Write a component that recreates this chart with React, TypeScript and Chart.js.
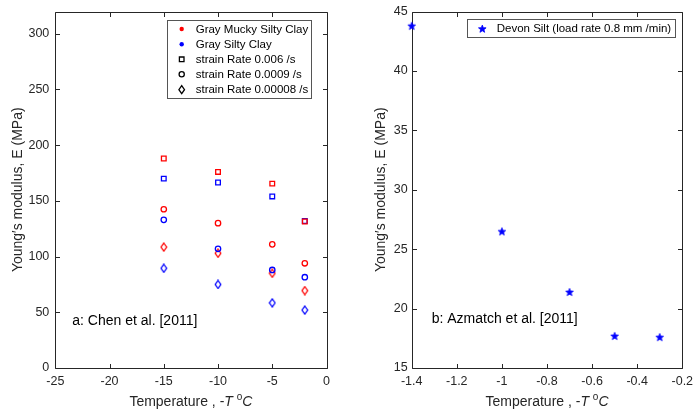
import React, { useEffect, useRef } from "react";
import { Chart, registerables } from "chart.js";

Chart.register(...registerables);

// ---------------- data ----------------
const chenTemps = [-15, -10, -5, -2];
const muckyRate006 = [188, 176, 165.5, 131.5];
const siltyRate006 = [170, 166.5, 154, 132];
const muckyRate0009 = [142.5, 130, 111, 94];
const siltyRate0009 = [133, 107, 88, 81.5];
const muckyRate00008 = [108.5, 103, 85, 69.5];
const siltyRate00008 = [89.5, 75, 58.5, 52];

const devonTemps = [-1.4, -1.0, -0.7, -0.5, -0.3];
const devonModulus = [43.8, 26.5, 21.4, 17.7, 17.6];

const chenXTicks = [-25, -20, -15, -10, -5, 0];
const chenYTicks = [0, 50, 100, 150, 200, 250, 300];
const devonXTicks = [-1.4, -1.2, -1, -0.8, -0.6, -0.4, -0.2];
const devonYTicks = [15, 20, 25, 30, 35, 40, 45];

const chenLegendLabels = [
  "Gray Mucky Silty Clay",
  "Gray Silty Clay",
  "strain Rate 0.006 /s",
  "strain Rate 0.0009 /s",
  "strain Rate 0.00008 /s",
];
const devonLegendLabel = "Devon Silt (load rate 0.8 mm /min)";
const chenNote = "a: Chen et al. [2011]";
const devonNote = "b: Azmatch et al. [2011]";
const yTitle = "Young\u2032s modulus, E (MPa)";

// ---------------- styles ----------------
const FONT = "'Liberation Sans', Arial, Helvetica, sans-serif";
const AXIS = "#262626";
const RED = "#FF0000";
const BLUE = "#0000FF";
const STAR_R = 4.0;
const STAR_r = 1.7;

Chart.defaults.font.family = FONT;

function makeDiamond(color: string): HTMLCanvasElement {
  const c = document.createElement("canvas");
  c.width = 8;
  c.height = 10;
  const g = c.getContext("2d")!;
  g.strokeStyle = color;
  g.lineWidth = 1.3;
  g.beginPath();
  g.moveTo(4, 1);
  g.lineTo(6.8, 5);
  g.lineTo(4, 9);
  g.lineTo(1.2, 5);
  g.closePath();
  g.stroke();
  return c;
}

function starPath(g: CanvasRenderingContext2D, cx: number, cy: number) {
  g.beginPath();
  for (let i = 0; i < 10; i++) {
    const a = -Math.PI / 2 + (i * Math.PI) / 5;
    const rad = i % 2 === 0 ? STAR_R : STAR_r;
    const px = cx + rad * Math.cos(a);
    const py = cy + rad * Math.sin(a);
    if (i === 0) g.moveTo(px, py);
    else g.lineTo(px, py);
  }
  g.closePath();
}

function makeStar(color: string): HTMLCanvasElement {
  const c = document.createElement("canvas");
  c.width = 10;
  c.height = 10;
  const g = c.getContext("2d")!;
  g.fillStyle = color;
  g.strokeStyle = color;
  g.lineWidth = 0.8;
  starPath(g, 5, 5.4);
  g.fill();
  g.stroke();
  return c;
}

function drawShape(
  ctx: CanvasRenderingContext2D,
  shape: string,
  x: number,
  y: number,
  color: string
) {
  ctx.save();
  ctx.strokeStyle = color;
  ctx.fillStyle = color;
  ctx.lineWidth = 1.3;
  ctx.beginPath();
  if (shape === "dot") {
    ctx.arc(x, y, 2.2, 0, Math.PI * 2);
    ctx.fill();
  } else if (shape === "square") {
    ctx.rect(x - 2.3, y - 2.3, 4.6, 4.6);
    ctx.stroke();
  } else if (shape === "circle") {
    ctx.arc(x, y, 2.6, 0, Math.PI * 2);
    ctx.stroke();
  } else if (shape === "diamond") {
    ctx.moveTo(x, y - 4);
    ctx.lineTo(x + 2.8, y);
    ctx.lineTo(x, y + 4);
    ctx.lineTo(x - 2.8, y);
    ctx.closePath();
    ctx.stroke();
  } else if (shape === "star") {
    ctx.lineWidth = 0.8;
    starPath(ctx, x, y + 0.4);
    ctx.fill();
    ctx.stroke();
  }
  ctx.restore();
}

type LegendEntry = { label: string; shape: string; color: string };
type FrameCfg = {
  xTicks: number[];
  yTicks: number[];
  legendBox: [number, number, number, number];
  legendEntries: LegendEntry[];
  legendRowY: number[];
  markerX: number;
  textX: number;
  note: string;
  noteX: number;
  noteY: number;
};

function drawXTitle(ctx: CanvasRenderingContext2D, cx: number, cy: number) {
  const parts = [
    { t: "Temperature , -", f: `14px ${FONT}`, dy: 0 },
    { t: "T", f: `italic 14px ${FONT}`, dy: 0 },
    { t: " ", f: `14px ${FONT}`, dy: 0 },
    { t: "o", f: `10px ${FONT}`, dy: -5 },
    { t: "C", f: `italic 14px ${FONT}`, dy: 0 },
  ];
  let total = 0;
  const widths = parts.map((p) => {
    ctx.font = p.f;
    const w = ctx.measureText(p.t).width;
    total += w;
    return w;
  });
  let x = cx - total / 2;
  ctx.save();
  ctx.fillStyle = AXIS;
  ctx.textBaseline = "middle";
  ctx.textAlign = "left";
  parts.forEach((p, i) => {
    ctx.font = p.f;
    ctx.fillText(p.t, x, cy + p.dy);
    x += widths[i];
  });
  ctx.restore();
}

function framePlugin(cfg: FrameCfg) {
  return {
    id: "frame",
    beforeDatasetsDraw(chart: any) {
      const ctx: CanvasRenderingContext2D = chart.ctx;
      const { left, right, top, bottom } = chart.chartArea;
      const xs = chart.scales.x;
      const ys = chart.scales.y;
      const L = Math.round(left) + 0.5;
      const R = Math.round(right) + 0.5;
      const T = Math.round(top) + 0.5;
      const B = Math.round(bottom) + 0.5;
      ctx.save();
      ctx.strokeStyle = AXIS;
      ctx.lineWidth = 1;
      ctx.beginPath();
      ctx.rect(L, T, R - L, B - T);
      const tl = 4.5;
      cfg.xTicks.forEach((v) => {
        const px = Math.round(xs.getPixelForValue(v)) + 0.5;
        ctx.moveTo(px, B);
        ctx.lineTo(px, B - tl);
        ctx.moveTo(px, T);
        ctx.lineTo(px, T + tl);
      });
      cfg.yTicks.forEach((v) => {
        const py = Math.round(ys.getPixelForValue(v)) + 0.5;
        ctx.moveTo(L, py);
        ctx.lineTo(L + tl, py);
        ctx.moveTo(R, py);
        ctx.lineTo(R - tl, py);
      });
      ctx.stroke();
      ctx.restore();
    },
    afterDraw(chart: any) {
      const ctx: CanvasRenderingContext2D = chart.ctx;
      const { left, right } = chart.chartArea;
      // legend
      const [bx, by, bw, bh] = cfg.legendBox;
      ctx.save();
      ctx.fillStyle = "#FFFFFF";
      ctx.fillRect(bx, by, bw, bh);
      ctx.strokeStyle = "#555555";
      ctx.lineWidth = 1;
      ctx.strokeRect(Math.round(bx) + 0.5, Math.round(by) + 0.5, Math.round(bw), Math.round(bh));
      ctx.font = `11.5px ${FONT}`;
      ctx.textBaseline = "middle";
      ctx.textAlign = "left";
      cfg.legendEntries.forEach((e, i) => {
        const y = cfg.legendRowY[i];
        drawShape(ctx, e.shape, cfg.markerX, y, e.color);
        ctx.fillStyle = "#000000";
        ctx.fillText(e.label, cfg.textX, y + 0.5);
      });
      // note
      ctx.font = `14px ${FONT}`;
      ctx.fillStyle = "#000000";
      ctx.fillText(cfg.note, cfg.noteX, cfg.noteY);
      ctx.restore();
      drawXTitle(ctx, (left + right) / 2, 402);
    },
  };
}

function makeScales(
  xMin: number,
  xMax: number,
  yMin: number,
  yMax: number,
  xTicks: number[],
  yTicks: number[],
  yWidth: number,
  yPad: number,
  titlePad: number
) {
  return {
    x: {
      type: "linear" as const,
      position: "bottom" as const,
      min: xMin,
      max: xMax,
      grid: { display: false, drawTicks: false },
      border: { display: false },
      ticks: {
        color: AXIS,
        font: { size: 12.5 },
        padding: 6.5,
        maxRotation: 0,
        autoSkip: false,
        callback: (v: any) => String(v),
      },
      afterBuildTicks: (s: any) => {
        s.ticks = xTicks.map((value) => ({ value }));
      },
      afterFit: (s: any) => {
        s.height = 45;
        s.paddingLeft = 0;
        s.paddingRight = 0;
      },
    },
    y: {
      type: "linear" as const,
      position: "left" as const,
      min: yMin,
      max: yMax,
      grid: { display: false, drawTicks: false },
      border: { display: false },
      ticks: {
        color: AXIS,
        font: { size: 12.5 },
        padding: yPad,
        autoSkip: false,
        callback: (v: any) => String(v),
      },
      title: {
        display: true,
        text: yTitle,
        color: AXIS,
        font: { size: 14 },
        padding: { top: titlePad, bottom: 0 },
      },
      afterBuildTicks: (s: any) => {
        s.ticks = yTicks.map((value) => ({ value }));
      },
      afterFit: (s: any) => {
        s.width = yWidth;
        s.paddingTop = 0;
        s.paddingBottom = 0;
      },
    },
  };
}

const baseOptions = {
  responsive: false,
  maintainAspectRatio: false,
  animation: false as const,
  events: [] as any[],
  plugins: { legend: { display: false }, tooltip: { enabled: false } },
};

function pts(xs: number[], ys: number[]) {
  return xs.map((x, i) => ({ x, y: ys[i] }));
}

export default function App() {
  const refA = useRef<HTMLCanvasElement>(null);
  const refB = useRef<HTMLCanvasElement>(null);

  useEffect(() => {
    const diamondRed = makeDiamond(RED);
    const diamondBlue = makeDiamond(BLUE);
    const starBlue = makeStar(BLUE);

    const ds = (label: string, ys: number[], color: string, style: any, radius: number) => ({
      label,
      data: pts(chenTemps, ys),
      pointStyle: style,
      pointRadius: radius,
      borderColor: color,
      backgroundColor: "rgba(0,0,0,0)",
      pointBorderWidth: 1.3,
      showLine: false,
      clip: false as any,
    });

    const chartA = new Chart(refA.current!, {
      type: "scatter",
      data: {
        datasets: [
          ds("Gray Mucky Silty Clay 0.006", muckyRate006, RED, "rect", 3.3),
          ds("Gray Silty Clay 0.006", siltyRate006, BLUE, "rect", 3.3),
          ds("Gray Mucky Silty Clay 0.0009", muckyRate0009, RED, "circle", 2.7),
          ds("Gray Silty Clay 0.0009", siltyRate0009, BLUE, "circle", 2.7),
          ds("Gray Mucky Silty Clay 0.00008", muckyRate00008, RED, diamondRed, 4),
          ds("Gray Silty Clay 0.00008", siltyRate00008, BLUE, diamondBlue, 4),
        ],
      },
      options: {
        ...baseOptions,
        layout: { padding: { left: 0, right: 19.5, top: 11.5, bottom: 0 } },
        scales: makeScales(-25, 0, 0, 320, chenXTicks, chenYTicks, 55.3, 6, 9.6) as any,
      },
      plugins: [
        framePlugin({
          xTicks: chenXTicks,
          yTicks: chenYTicks,
          legendBox: [167, 20, 144, 78],
          legendEntries: [
            { label: chenLegendLabels[0], shape: "dot", color: RED },
            { label: chenLegendLabels[1], shape: "dot", color: BLUE },
            { label: chenLegendLabels[2], shape: "square", color: "#000000" },
            { label: chenLegendLabels[3], shape: "circle", color: "#000000" },
            { label: chenLegendLabels[4], shape: "diamond", color: "#000000" },
          ],
          legendRowY: [29, 44.3, 59.3, 74.3, 89.7],
          markerX: 181.7,
          textX: 195.7,
          note: chenNote,
          noteX: 72.3,
          noteY: 320.7,
        }) as any,
      ],
    });

    const chartB = new Chart(refB.current!, {
      type: "scatter",
      data: {
        datasets: [
          {
            label: devonLegendLabel,
            data: pts(devonTemps, devonModulus),
            pointStyle: starBlue as any,
            pointRadius: 4,
            borderColor: BLUE,
            backgroundColor: BLUE,
            showLine: false,
            clip: false as any,
          },
        ],
      },
      options: {
        ...baseOptions,
        layout: { padding: { left: 0, right: 10.7, top: 11.5, bottom: 0 } },
        scales: makeScales(-1.4, -0.2, 15, 45, devonXTicks, devonYTicks, 65.7, 4, 26.6) as any,
      },
      plugins: [
        framePlugin({
          xTicks: devonXTicks,
          yTicks: devonYTicks,
          legendBox: [121, 19.3, 208, 18.4],
          legendEntries: [{ label: devonLegendLabel, shape: "star", color: BLUE }],
          legendRowY: [28.7],
          markerX: 136.3,
          textX: 150.7,
          note: devonNote,
          noteX: 85.7,
          noteY: 319,
        }) as any,
      ],
    });

    return () => {
      chartA.destroy();
      chartB.destroy();
    };
  }, []);

  return (
    <div
      style={{
        position: "absolute",
        left: 0,
        top: 0,
        width: 693,
        height: 413,
        background: "#FFFFFF",
      }}
    >
      <canvas
        ref={refA}
        width={346}
        height={413}
        style={{ position: "absolute", left: 0, top: 0, width: 346, height: 413, display: "block" }}
      />
      <canvas
        ref={refB}
        width={347}
        height={413}
        style={{ position: "absolute", left: 346, top: 0, width: 347, height: 413, display: "block" }}
      />
    </div>
  );
}
